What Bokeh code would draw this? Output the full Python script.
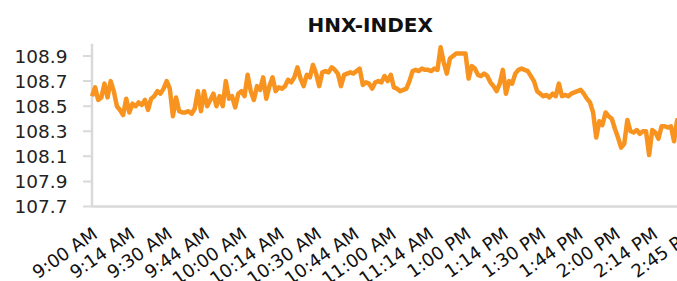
from bokeh.plotting import figure
from bokeh.models import Range1d
from bokeh.core.properties import value
from bokeh.embed import file_html
from bokeh.resources import INLINE

# Category labels shown on the x axis (one every `label_interval` data points)
tick_labels = ["9:00 AM", "9:14 AM", "9:30 AM", "9:44 AM", "10:00 AM", "10:14 AM",
               "10:30 AM", "10:44 AM", "11:00 AM", "11:14 AM", "1:00 PM", "1:14 PM",
               "1:30 PM", "1:44 PM", "2:00 PM", "2:14 PM", "2:45 PM"]
label_interval = 12

# HNX-INDEX intraday values
s0 = [108.58, 108.65, 108.55, 108.57, 108.68, 108.57, 108.70, 108.62, 108.50, 108.47, 108.43, 108.56]
s1 = [108.45, 108.52, 108.50, 108.53, 108.51, 108.55, 108.47, 108.56, 108.58, 108.62, 108.60, 108.64]
s2 = [108.70, 108.64, 108.42, 108.57, 108.46, 108.45, 108.45, 108.46, 108.44, 108.48, 108.62, 108.46]
s3 = [108.62, 108.50, 108.55, 108.60, 108.50, 108.58, 108.50, 108.70, 108.56, 108.58, 108.49, 108.60]
s4 = [108.62, 108.58, 108.75, 108.62, 108.55, 108.66, 108.63, 108.73, 108.56, 108.66, 108.73, 108.62]
s5 = [108.65, 108.64, 108.66, 108.71, 108.69, 108.73, 108.81, 108.72, 108.66, 108.75, 108.73, 108.83]
s6 = [108.76, 108.66, 108.77, 108.78, 108.77, 108.81, 108.79, 108.76, 108.66, 108.75, 108.76, 108.77]
s7 = [108.76, 108.78, 108.80, 108.67, 108.69, 108.68, 108.64, 108.69, 108.70, 108.69, 108.74, 108.70]
s8 = [108.75, 108.65, 108.64, 108.62, 108.63, 108.64, 108.70, 108.78, 108.79, 108.78, 108.80, 108.79]
s9 = [108.79, 108.78, 108.80, 108.79, 108.97, 108.85, 108.76, 108.88, 108.90, 108.92, 108.92, 108.92]
s10 = [108.92, 108.72, 108.82, 108.80, 108.75, 108.74, 108.76, 108.74, 108.69, 108.66, 108.62, 108.68]
s11 = [108.79, 108.60, 108.70, 108.68, 108.76, 108.79, 108.80, 108.79, 108.78, 108.74, 108.70, 108.62]
s12 = [108.60, 108.58, 108.59, 108.57, 108.60, 108.58, 108.68, 108.58, 108.59, 108.58, 108.60, 108.61]
s13 = [108.62, 108.63, 108.60, 108.56, 108.53, 108.45, 108.25, 108.38, 108.35, 108.45, 108.42, 108.40]
s14 = [108.32, 108.25, 108.17, 108.20, 108.39, 108.30, 108.29, 108.31, 108.28, 108.30, 108.30, 108.11]
s15 = [108.31, 108.29, 108.24, 108.34, 108.34, 108.33, 108.34, 108.22, 108.39, 108.36, 108.35, 108.35]
s_end = [108.36]

y_ticks = [107.7, 107.9, 108.1, 108.3, 108.5, 108.7, 108.9]
y_tick_labels = ["107.7", "107.9", "108.1", "108.3", "108.5", "108.7", "108.9"]
y_min, y_max = 107.7, 109.0

hnx = s0 + s1 + s2 + s3 + s4 + s5 + s6 + s7 + s8 + s9 + s10 + s11 + s12 + s13 + s14 + s15 + s_end
xs = list(range(len(hnx)))
tick_x = [i * label_interval for i in range(len(tick_labels))]

# layout (pixels)
W, H = 677, 281
top = 43
axis_px = 91.5                     # x pixel of the value axis
plot_h = 163                       # height of the value area (107.7 .. 109.0)
px_per_unit = plot_h / (y_max - y_min)
px_per_idx = 37.35 / label_interval
x_lo = -axis_px / px_per_idx
x_hi = x_lo + W / px_per_idx
y_lo = y_max - (H - top) / px_per_unit

p = figure(width=W, height=H, output_backend="svg", toolbar_location=None,
           x_range=Range1d(x_lo, x_hi), y_range=Range1d(y_lo, y_max),
           min_border_left=0, min_border_right=0, min_border_top=top, min_border_bottom=0)

axis_grey = "#D9D9D9"
tick_len = 9 / px_per_idx
# value axis line, tick marks and category axis line
p.segment(x0=[0], y0=[y_min], x1=[0], y1=[y_max], line_color=axis_grey, line_width=2.5)
p.segment(x0=[-tick_len] * len(y_ticks), y0=y_ticks, x1=[0] * len(y_ticks), y1=y_ticks,
          line_color=axis_grey, line_width=2)
p.segment(x0=[0], y0=[y_min], x1=[x_hi], y1=[y_min], line_color=axis_grey, line_width=2.5)

p.line(xs, hnx, line_color="#F7931E", line_width=4.5, line_join="round")

# value-axis labels
p.text(x=[0] * len(y_ticks), y=y_ticks, text=y_tick_labels,
       text_align="right", text_baseline="middle",
       text_font=value("DejaVu Sans"), text_font_size="18.5px", text_color="#222222",
       x_offset=-24.5)

# rotated category labels
p.text(x=tick_x, y=[y_min] * len(tick_x), text=tick_labels,
       angle=0.61, text_align="right", text_baseline="middle",
       text_font=value("DejaVu Sans"), text_font_size="18px", text_color="#111111",
       x_offset=3, y_offset=25)

p.title.text = "HNX-INDEX"
p.title.text_font = "DejaVu Sans"
p.title.text_font_style = "bold"
p.title.text_font_size = "20px"
p.title.text_color = "#111111"
p.title.align = "left"
p.title.offset = 307
p.title.standoff = 14

p.xgrid.visible = False
p.ygrid.visible = False
p.xaxis.visible = False
p.yaxis.visible = False
p.outline_line_color = None
p.background_fill_color = "white"
p.border_fill_color = "white"

open("out.html", "w").write(file_html(p, INLINE))
